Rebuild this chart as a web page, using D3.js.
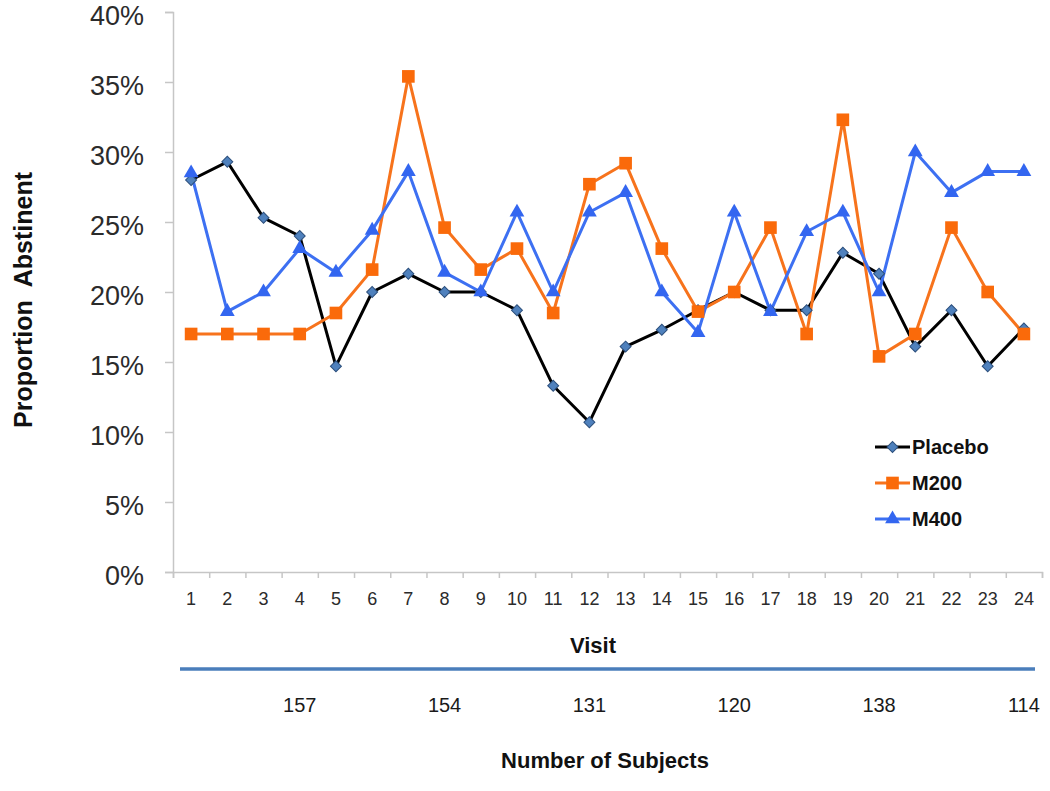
<!DOCTYPE html>
<html>
<head>
<meta charset="utf-8">
<script src="https://cdn.jsdelivr.net/npm/d3@7"></script>
<style>
  body { margin: 0; background: #fff; }
  svg { display: block; font-family: "Liberation Sans", Arial, sans-serif; }
</style>
</head>
<body>
<svg id="chart" width="1050" height="791"></svg>
<script>
const visits = d3.range(1, 25);

const placebo = [0.280, 0.293, 0.253, 0.240, 0.147, 0.200, 0.213, 0.200, 0.200, 0.187, 0.133, 0.107,
                 0.161, 0.173, 0.187, 0.200, 0.187, 0.187, 0.228, 0.213, 0.161, 0.187, 0.147, 0.174];
const m200 = [0.170, 0.170, 0.170, 0.170, 0.185, 0.216, 0.354, 0.246, 0.216, 0.231, 0.185, 0.277,
              0.292, 0.231, 0.186, 0.200, 0.246, 0.170, 0.323, 0.154, 0.170, 0.246, 0.200, 0.170];
const m400 = [0.285, 0.186, 0.200, 0.231, 0.214, 0.244, 0.286, 0.214, 0.200, 0.257, 0.200, 0.257,
              0.271, 0.200, 0.171, 0.257, 0.186, 0.243, 0.257, 0.200, 0.300, 0.271, 0.286, 0.286];

const yTicks = [0, 0.05, 0.10, 0.15, 0.20, 0.25, 0.30, 0.35, 0.40];

const subjectVisits = [4, 8, 12, 16, 20, 24];
const subjectCounts = [157, 154, 131, 120, 138, 114];

const series = [
  { name: "Placebo", values: placebo, line: "#000000", fill: "#4f81bd", stroke: "#2c4f7c", symbol: "diamond" },
  { name: "M200", values: m200, line: "#f7731c", fill: "#fa6a0a", stroke: "none", symbol: "square" },
  { name: "M400", values: m400, line: "#3d70f2", fill: "#3366f0", stroke: "none", symbol: "triangle" }
];

const svg = d3.select("#chart");

const plotL = 173, plotR = 1042, plotT = 12, plotB = 572;

const x = d3.scaleBand().domain(visits).range([plotL, plotR]);
const xEdge = d3.scaleLinear().domain([0, 24]).range([plotL, plotR]);
const y = d3.scaleLinear().domain([0, 0.4]).range([plotB, plotT]);
const cx = v => x(v) + x.bandwidth() / 2;

// y axis
const yAxis = d3.axisLeft(y)
  .tickValues(yTicks)
  .tickFormat(d3.format(".0%"))
  .tickSize(8)
  .tickPadding(21);

const gy = svg.append("g")
  .attr("transform", "translate(" + plotL + ",0)")
  .call(yAxis);
gy.select(".domain").attr("stroke", "#c6c6c6").attr("stroke-width", 1.5);
gy.selectAll(".tick line").attr("stroke", "#c6c6c6").attr("stroke-width", 1.5);
gy.selectAll(".tick text").attr("font-size", 27).attr("fill", "#2b2b2b")
  .attr("dy", "0.48em")
  .attr("font-family", "Liberation Sans, Arial, sans-serif");

// x axis: boundary ticks
const gxe = svg.append("g")
  .attr("transform", "translate(0," + plotB + ")")
  .call(d3.axisBottom(xEdge).tickValues(d3.range(0, 25)).tickSize(6).tickFormat(""));
gxe.select(".domain").attr("stroke", "#c6c6c6").attr("stroke-width", 1.5);
gxe.selectAll(".tick line").attr("stroke", "#c6c6c6").attr("stroke-width", 1.5);

// x axis: labels
const gx = svg.append("g")
  .attr("transform", "translate(0," + plotB + ")")
  .call(d3.axisBottom(x).tickSize(0).tickPadding(20));
gx.select(".domain").remove();
gx.selectAll(".tick text").attr("font-size", 18).attr("fill", "#2b2b2b")
  .attr("font-family", "Liberation Sans, Arial, sans-serif");

// axis titles
svg.append("text")
  .attr("transform", "translate(32,300) rotate(-90)")
  .attr("text-anchor", "middle")
  .attr("font-size", 25)
  .attr("font-weight", "bold")
  .attr("fill", "#111")
  .style("white-space", "pre")
  .text("Proportion  Abstinent");

svg.append("text")
  .attr("x", 593).attr("y", 653)
  .attr("text-anchor", "middle")
  .attr("font-size", 22)
  .attr("font-weight", "bold")
  .attr("fill", "#111")
  .text("Visit");

// subjects band
svg.append("line")
  .attr("x1", 180).attr("x2", 1035)
  .attr("y1", 669).attr("y2", 669)
  .attr("stroke", "#4a7ebb").attr("stroke-width", 3.5);

svg.append("g").selectAll("text")
  .data(subjectVisits)
  .join("text")
  .attr("x", d => cx(d))
  .attr("y", 712)
  .attr("text-anchor", "middle")
  .attr("font-size", 20)
  .attr("fill", "#1a1a1a")
  .text((d, i) => subjectCounts[i]);

svg.append("text")
  .attr("x", 605).attr("y", 768)
  .attr("text-anchor", "middle")
  .attr("font-size", 22)
  .attr("font-weight", "bold")
  .attr("fill", "#111")
  .text("Number of Subjects");

// symbols
function symbolPath(kind) {
  if (kind === "diamond") return d3.symbol(d3.symbolSquare, 60)();
  if (kind === "square") return d3.symbol(d3.symbolSquare, 160)();
  return d3.symbol(d3.symbolTriangle, 95)();
}
function symbolRot(kind) {
  return kind === "diamond" ? " rotate(45)" : "";
}

const line = d3.line()
  .x((d, i) => cx(visits[i]))
  .y(d => y(d));

series.forEach(s => {
  svg.append("path")
    .datum(s.values)
    .attr("fill", "none")
    .attr("stroke", s.line)
    .attr("stroke-width", 3)
    .attr("stroke-linejoin", "round")
    .attr("d", line);
});

series.forEach(s => {
  svg.append("g").selectAll("path")
    .data(s.values)
    .join("path")
    .attr("d", symbolPath(s.symbol))
    .attr("transform", (d, i) => "translate(" + cx(visits[i]) + "," + y(d) + ")" + symbolRot(s.symbol))
    .attr("fill", s.fill)
    .attr("stroke", s.stroke)
    .attr("stroke-width", 1);
});

// legend
const legend = svg.append("g").attr("transform", "translate(875,447)");
const li = legend.selectAll("g")
  .data(series)
  .join("g")
  .attr("transform", (d, i) => "translate(0," + (i * 36) + ")");
li.append("line")
  .attr("x1", 0).attr("x2", 35)
  .attr("stroke", d => d.line).attr("stroke-width", 3);
li.append("path")
  .attr("d", d => symbolPath(d.symbol))
  .attr("transform", d => "translate(17.5,0)" + symbolRot(d.symbol))
  .attr("fill", d => d.fill)
  .attr("stroke", d => d.stroke)
  .attr("stroke-width", 1);
li.append("text")
  .attr("x", 37).attr("y", 0).attr("dy", "0.35em")
  .attr("font-size", 20)
  .attr("font-weight", "bold")
  .attr("fill", "#111")
  .text(d => d.name);
</script>
</body>
</html>
